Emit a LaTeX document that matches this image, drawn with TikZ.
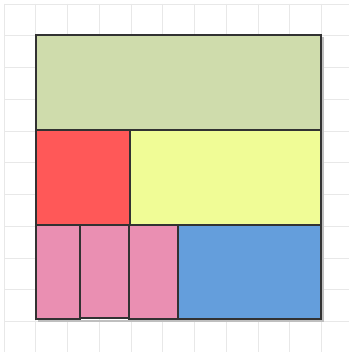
\documentclass[tikz,border=0pt]{standalone}
\definecolor{gridc}{RGB}{232,232,232}
\definecolor{cgreen}{RGB}{207,220,172}
\definecolor{cred}{RGB}{255,88,88}
\definecolor{cyellow}{RGB}{240,252,150}
\definecolor{cpink}{RGB}{234,143,178}
\definecolor{cblue}{RGB}{100,158,220}
\definecolor{edge}{RGB}{50,50,50}
\begin{document}
\begin{tikzpicture}[x=1pt,y=-1pt,
  block/.style={draw=edge,line width=1.1pt,line join=miter},
  shadowline/.style={draw=black!25,line width=1.2pt}]
\useasboundingbox (0,0) rectangle (349,352);
\fill[white] (0,0) rectangle (349,352);
% grid
\foreach \i in {0,...,10} {
  \draw[gridc,line width=0.8pt] ({4+31.75*\i},4) -- ({4+31.75*\i},352);
  \draw[gridc,line width=0.8pt] (4,{4+31.75*\i}) -- (349,{4+31.75*\i});
}
% shadow
\draw[shadowline] (38,321) -- (323,321) -- (323,37);
% blocks
\path[block,fill=cgreen] (36,35) rectangle (321,130);
\path[block,fill=cred] (36,130) rectangle (130,225);
\path[block,fill=cyellow] (130,130) rectangle (321,225);
\path[block,fill=cblue] (178,225) rectangle (321,319);
\path[block,fill=cpink] (129,225) rectangle (178,319);
\path[block,fill=cpink] (80,225) rectangle (129,318);
\path[block,fill=cpink] (36,225) rectangle (80,319);
\end{tikzpicture}
\end{document}
